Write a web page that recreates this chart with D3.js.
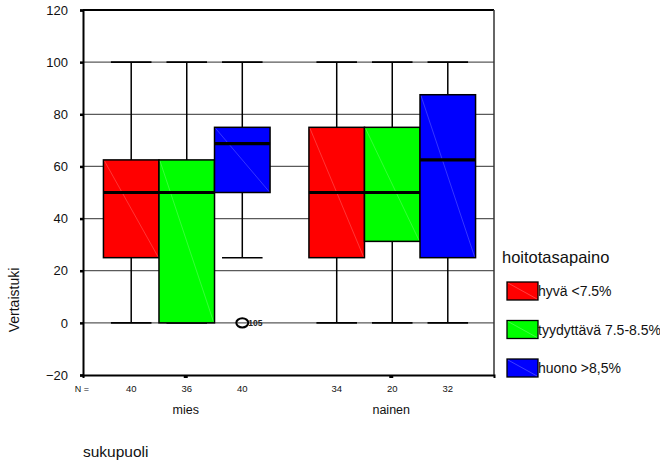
<!DOCTYPE html>
<html>
<head>
<meta charset="utf-8">
<script src="https://cdn.jsdelivr.net/npm/d3@7"></script>
<style>
  html, body { margin: 0; padding: 0; background: #fff; }
  svg { display: block; font-family: "Liberation Sans", Arial, sans-serif; }
</style>
</head>
<body>
<svg id="chart" width="660" height="465"></svg>
<script>
// Box plot of "Vertaistuki" by sukupuoli and hoitotasapaino
const categories = ["mies", "nainen"];
const groups = ["hyvä <7.5%", "tyydyttävä 7.5-8.5%", "huono >8,5%"];
const colors = ["#ff0000", "#00ff00", "#0000ff"];

// per category: one value per group
const whiskerLow  = [[0, 0, 25], [0, 0, 0]];
const q1          = [[25, 0, 50], [25, 31.25, 25]];
const median      = [[50, 50, 68.75], [50, 50, 62.5]];
const q3          = [[62.5, 62.5, 75], [75, 75, 87.5]];
const whiskerHigh = [[100, 100, 100], [100, 100, 100]];
const counts      = [[40, 36, 40], [34, 20, 32]];

// outlying cases: category index, group index, value, case label
const outlierCat = [0];
const outlierGrp = [2];
const outlierVal = [0];
const outlierLab = ["105"];

const yTicks = [-20, 0, 20, 40, 60, 80, 100, 120];
const gridValues = [0, 20, 40, 60, 80, 100];

const svg = d3.select("#chart");
const plotLeft = 83, plotRight = 494, plotTop = 10, plotBottom = 375;

const y = d3.scaleLinear().domain([-20, 120]).range([plotBottom, plotTop]);
const x0 = d3.scaleBand().domain(categories).range([plotLeft, plotRight]).paddingInner(0).paddingOuter(0);
const x1 = d3.scaleBand().domain(groups).range([0, x0.bandwidth()]).paddingInner(0).paddingOuter(0.35);

const boxW = x1.bandwidth();
const capW = boxW * 0.73;

// horizontal grid
svg.append("g").selectAll("line").data(gridValues).join("line")
  .attr("x1", plotLeft).attr("x2", plotRight)
  .attr("y1", d => y(d)).attr("y2", d => y(d))
  .attr("stroke", "#5a5a5a").attr("stroke-width", 1.2);

// flatten to one record per box
const boxes = [];
categories.forEach((c, ci) => groups.forEach((g, gi) => {
  boxes.push({
    c, g, gi,
    lo: whiskerLow[ci][gi], q1: q1[ci][gi], med: median[ci][gi],
    q3: q3[ci][gi], hi: whiskerHigh[ci][gi], n: counts[ci][gi],
    cx: x0(c) + x1(g) + boxW / 2 + 1
  });
}));

const gBox = svg.append("g");
// whisker stems
gBox.append("g").selectAll("line").data(boxes).join("line")
  .attr("x1", d => d.cx).attr("x2", d => d.cx)
  .attr("y1", d => y(d.lo)).attr("y2", d => y(d.q1))
  .attr("stroke", "#000").attr("stroke-width", 1.5);
gBox.append("g").selectAll("line").data(boxes).join("line")
  .attr("x1", d => d.cx).attr("x2", d => d.cx)
  .attr("y1", d => y(d.q3)).attr("y2", d => y(d.hi))
  .attr("stroke", "#000").attr("stroke-width", 1.5);
// whisker caps
["lo", "hi"].forEach(k => {
  gBox.append("g").selectAll("line").data(boxes).join("line")
    .attr("x1", d => d.cx - capW / 2).attr("x2", d => d.cx + capW / 2)
    .attr("y1", d => y(d[k])).attr("y2", d => y(d[k]))
    .attr("stroke", "#000").attr("stroke-width", 1.6);
});

// boxes
gBox.append("g").selectAll("rect").data(boxes).join("rect")
  .attr("x", d => d.cx - boxW / 2).attr("width", boxW)
  .attr("y", d => y(d.q3)).attr("height", d => y(d.q1) - y(d.q3))
  .attr("fill", d => colors[d.gi])
  .attr("stroke", "#000").attr("stroke-width", 1.5);
// faint diagonal across each box
gBox.append("g").selectAll("line").data(boxes).join("line")
  .attr("x1", d => d.cx - boxW / 2 + 1).attr("y1", d => y(d.q3) + 1)
  .attr("x2", d => d.cx + boxW / 2 - 1).attr("y2", d => y(d.q1) - 1)
  .attr("stroke", "#fff").attr("stroke-opacity", 0.3).attr("stroke-width", 0.7);
// medians
gBox.append("g").selectAll("line").data(boxes).join("line")
  .attr("x1", d => d.cx - boxW / 2).attr("x2", d => d.cx + boxW / 2)
  .attr("y1", d => y(d.med)).attr("y2", d => y(d.med))
  .attr("stroke", "#000").attr("stroke-width", 3.2);

// outliers
const outs = outlierVal.map((v, i) => ({
  v, lab: outlierLab[i],
  cx: x0(categories[outlierCat[i]]) + x1(groups[outlierGrp[i]]) + boxW / 2 + 1
}));
svg.append("g").selectAll("ellipse").data(outs).join("ellipse")
  .attr("cx", d => d.cx).attr("cy", d => y(d.v))
  .attr("rx", 6).attr("ry", 4.6)
  .attr("fill", "none").attr("stroke", "#000").attr("stroke-width", 2);
svg.append("g").selectAll("text").data(outs).join("text")
  .attr("x", d => d.cx + 6).attr("y", d => y(d.v) + 3)
  .attr("font-size", 8.5).attr("font-weight", "bold").attr("fill", "#222")
  .text(d => d.lab);

// frame: top and right
svg.append("line").attr("x1", plotLeft).attr("x2", plotRight).attr("y1", plotTop).attr("y2", plotTop)
  .attr("stroke", "#000").attr("stroke-width", 2);
svg.append("line").attr("x1", plotRight).attr("x2", plotRight).attr("y1", plotTop).attr("y2", plotBottom)
  .attr("stroke", "#333").attr("stroke-width", 1.5);

// y axis
const yAxis = d3.axisLeft(y).tickValues(yTicks).tickSize(3).tickPadding(12);
const gy = svg.append("g").attr("transform", `translate(${plotLeft},0)`).call(yAxis);
gy.select(".domain").attr("stroke", "#000").attr("stroke-width", 2);
gy.selectAll(".tick line").attr("stroke", "#000").attr("stroke-width", 2.5);
gy.selectAll(".tick text").attr("font-size", 13).attr("fill", "#111")
  .attr("font-family", "Liberation Sans, Arial, sans-serif");

// x axis
const xAxis = d3.axisBottom(x0).tickSize(3).tickFormat("");
const gx = svg.append("g").attr("transform", `translate(0,${plotBottom})`).call(xAxis);
gx.select(".domain").attr("stroke", "#000").attr("stroke-width", 2);
gx.selectAll(".tick line").attr("stroke", "#000").attr("stroke-width", 4);

// N counts
svg.append("text").attr("x", 82).attr("y", 392).attr("text-anchor", "middle")
  .attr("font-size", 9).attr("fill", "#111").text("N =");
svg.append("g").selectAll("text").data(boxes).join("text")
  .attr("x", d => d.cx).attr("y", 392).attr("text-anchor", "middle")
  .attr("font-size", 9.5).attr("fill", "#111").text(d => d.n);

// category labels
svg.append("g").selectAll("text").data(categories).join("text")
  .attr("x", d => x0(d) + x0.bandwidth() / 2).attr("y", 414)
  .attr("text-anchor", "middle").attr("font-size", 12.5).attr("fill", "#111")
  .text(d => d);

// axis titles
svg.append("text").attr("x", 83).attr("y", 457).attr("font-size", 15.5).attr("fill", "#111")
  .text("sukupuoli");
svg.append("text").attr("transform", "translate(19,300) rotate(-90)")
  .attr("text-anchor", "middle").attr("font-size", 14).attr("fill", "#111")
  .text("Vertaistuki");

// legend
const lg = svg.append("g");
lg.append("text").attr("x", 502).attr("y", 263).attr("font-size", 16.5).attr("fill", "#111")
  .text("hoitotasapaino");
const legendY = d3.scalePoint().domain(groups).range([282, 359]);
const items = lg.selectAll(".item").data(groups).join("g")
  .attr("transform", d => `translate(507,${legendY(d)})`);
items.append("rect").attr("width", 31).attr("height", 18)
  .attr("fill", (d, i) => colors[i]).attr("stroke", "#000").attr("stroke-width", 1.3);
items.append("line").attr("x1", 1).attr("y1", 1).attr("x2", 30).attr("y2", 17)
  .attr("stroke", "#fff").attr("stroke-opacity", 0.35).attr("stroke-width", 0.7);
items.append("text").attr("x", 31).attr("y", 14).attr("font-size", 14).attr("fill", "#111")
  .text(d => d);
</script>
</body>
</html>
